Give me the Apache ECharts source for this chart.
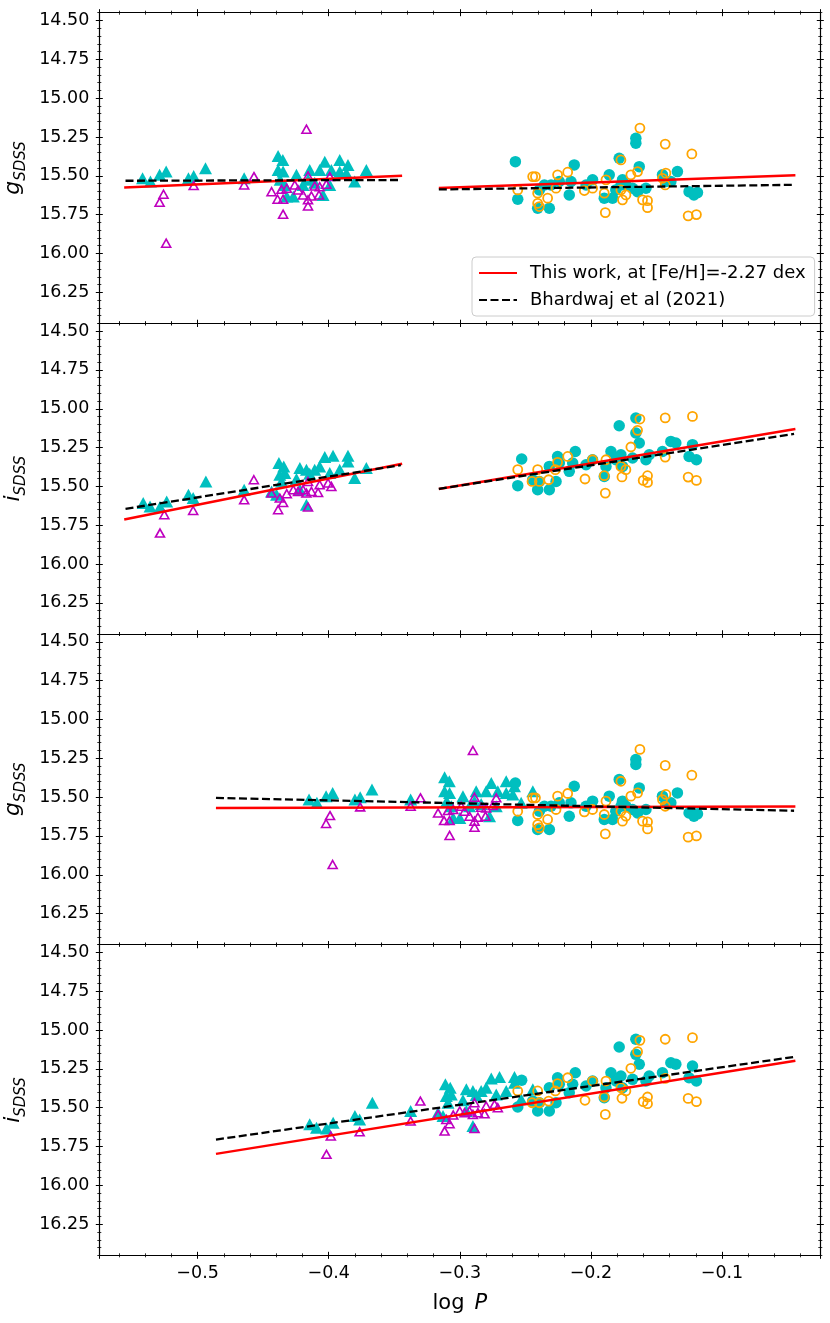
<!DOCTYPE html>
<html>
<head>
<meta charset="utf-8">
<script src="https://cdn.jsdelivr.net/npm/echarts@6/dist/echarts.min.js"></script>
<style>
  html, body { margin: 0; padding: 0; background: #fff; }
  #chart { width: 830px; height: 1323px; }
</style>
</head>
<body>
<div id="chart"></div>
<script>
// [log P, magnitude] pairs

// g band, first-overtone (short period) stars, filled cyan triangles
const gRRcFilled = [
  [-0.542, 15.516], [-0.536, 15.537], [-0.529, 15.494], [-0.524, 15.473], [-0.507, 15.516],
  [-0.503, 15.501], [-0.494, 15.451], [-0.4645, 15.516], [-0.4386, 15.372], [-0.435, 15.398],
  [-0.4386, 15.462], [-0.4348, 15.473], [-0.437, 15.526], [-0.4335, 15.559], [-0.432, 15.634],
  [-0.427, 15.634], [-0.4246, 15.494], [-0.4196, 15.559], [-0.4145, 15.462], [-0.4069, 15.462],
  [-0.403, 15.409], [-0.4043, 15.623], [-0.398, 15.462], [-0.3992, 15.559], [-0.3916, 15.398],
  [-0.3916, 15.473], [-0.3853, 15.43], [-0.3865, 15.484], [-0.3802, 15.537], [-0.3713, 15.462],
  [-0.4158, 15.526], [-0.4107, 15.545]
];
// g band, first-overtone stars, open magenta triangles
const gRRcOpen = [
  [-0.529, 15.670], [-0.526, 15.619], [-0.524, 15.934], [-0.503, 15.563], [-0.4645, 15.559],
  [-0.457, 15.505], [-0.4436, 15.602], [-0.439, 15.651], [-0.4348, 15.651], [-0.436, 15.587],
  [-0.432, 15.58], [-0.4348, 15.747], [-0.4259, 15.559], [-0.4234, 15.591], [-0.4196, 15.623],
  [-0.4158, 15.655], [-0.4158, 15.694], [-0.4158, 15.501], [-0.417, 15.200], [-0.4132, 15.63],
  [-0.4107, 15.565], [-0.4074, 15.623], [-0.4069, 15.57], [-0.4018, 15.554], [-0.3992, 15.505]
];
// g band, fundamental-mode stars, filled cyan circles
const gRRabFilled = [
  [-0.2576, 15.409], [-0.2558, 15.651], [-0.2406, 15.709], [-0.2317, 15.709], [-0.2393, 15.591],
  [-0.2355, 15.559], [-0.2304, 15.559], [-0.2241, 15.537], [-0.2165, 15.623], [-0.2127, 15.430],
  [-0.2152, 15.537], [-0.2037, 15.559], [-0.1987, 15.526], [-0.1898, 15.644], [-0.1860, 15.494],
  [-0.1835, 15.644], [-0.1784, 15.387], [-0.1759, 15.526], [-0.1733, 15.559], [-0.1682, 15.580],
  [-0.1644, 15.602], [-0.1580, 15.580], [-0.1657, 15.258], [-0.1657, 15.290], [-0.1631, 15.441],
  [-0.1454, 15.494], [-0.1428, 15.537], [-0.1390, 15.537], [-0.1340, 15.473], [-0.1251, 15.602],
  [-0.1214, 15.623], [-0.1187, 15.608], [-0.177, 15.559], [-0.181, 15.591]
];
// g band, fundamental-mode stars, open orange circles
const gRRabOpen = [
  [-0.2558, 15.591], [-0.2444, 15.505], [-0.2423, 15.505], [-0.2406, 15.612], [-0.2406, 15.677],
  [-0.2393, 15.698], [-0.2330, 15.644], [-0.2266, 15.580], [-0.2254, 15.494], [-0.2177, 15.477],
  [-0.2050, 15.595], [-0.1987, 15.580], [-0.1898, 15.612], [-0.1885, 15.526], [-0.1890, 15.737],
  [-0.1771, 15.398], [-0.1771, 15.591], [-0.1759, 15.655], [-0.1733, 15.623], [-0.1695, 15.494],
  [-0.1644, 15.473], [-0.1626, 15.193], [-0.1606, 15.655], [-0.1568, 15.660], [-0.1568, 15.705],
  [-0.1454, 15.516], [-0.1428, 15.483], [-0.1433, 15.559], [-0.1433, 15.296], [-0.1258, 15.758],
  [-0.1195, 15.750], [-0.1230, 15.359]
];

// i band
const iRRcFilled = [
  [-0.5415, 15.607], [-0.5363, 15.629], [-0.5287, 15.633], [-0.5236, 15.597], [-0.507, 15.553],
  [-0.5034, 15.575], [-0.4937, 15.468], [-0.4645, 15.521], [-0.438, 15.349], [-0.4343, 15.371],
  [-0.4373, 15.425], [-0.4335, 15.414], [-0.436, 15.468], [-0.4436, 15.532], [-0.4398, 15.553],
  [-0.4246, 15.452], [-0.422, 15.381], [-0.4170, 15.392], [-0.4145, 15.418], [-0.4107, 15.392],
  [-0.417, 15.618], [-0.422, 15.521], [-0.4069, 15.371], [-0.403, 15.311], [-0.3967, 15.302],
  [-0.3992, 15.414], [-0.3916, 15.392], [-0.3853, 15.302], [-0.3853, 15.339], [-0.3802, 15.446],
  [-0.3713, 15.381]
];
const iRRcOpen = [
  [-0.5287, 15.80], [-0.5254, 15.682], [-0.5034, 15.655], [-0.4645, 15.586], [-0.4571, 15.457],
  [-0.4436, 15.543], [-0.4386, 15.65], [-0.4373, 15.575], [-0.4348, 15.603], [-0.432, 15.547],
  [-0.427, 15.521], [-0.4234, 15.532], [-0.4196, 15.521], [-0.4158, 15.468], [-0.4158, 15.633],
  [-0.4132, 15.532], [-0.4081, 15.539], [-0.4069, 15.489], [-0.4005, 15.478], [-0.398, 15.5],
  [-0.417, 15.543]
];
const iRRabFilled = [
  [-0.2528, 15.323], [-0.2558, 15.495], [-0.2406, 15.521], [-0.2317, 15.521], [-0.2393, 15.468],
  [-0.2444, 15.457], [-0.2317, 15.371], [-0.2254, 15.307], [-0.2241, 15.349], [-0.2165, 15.403],
  [-0.2119, 15.275], [-0.2037, 15.360], [-0.1987, 15.328], [-0.1898, 15.436], [-0.1847, 15.275],
  [-0.1885, 15.371], [-0.1809, 15.328], [-0.1759, 15.371], [-0.1771, 15.296], [-0.1784, 15.109],
  [-0.1657, 15.059], [-0.1657, 15.156], [-0.1631, 15.220], [-0.1580, 15.328], [-0.1555, 15.296],
  [-0.1454, 15.275], [-0.1390, 15.210], [-0.1352, 15.220], [-0.1251, 15.307], [-0.1225, 15.231],
  [-0.1195, 15.328], [-0.2266, 15.468], [-0.2139, 15.349], [-0.1682, 15.317]
];
const iRRabOpen = [
  [-0.2558, 15.392], [-0.2449, 15.468], [-0.2406, 15.392], [-0.2393, 15.468], [-0.2322, 15.457],
  [-0.2271, 15.392], [-0.2254, 15.345], [-0.2177, 15.307], [-0.2045, 15.452], [-0.1987, 15.328],
  [-0.1890, 15.543], [-0.1898, 15.431], [-0.1885, 15.328], [-0.1771, 15.371], [-0.1763, 15.439],
  [-0.1733, 15.392], [-0.1695, 15.246], [-0.1644, 15.139], [-0.1626, 15.066], [-0.1601, 15.461],
  [-0.1568, 15.474], [-0.1568, 15.431], [-0.1433, 15.059], [-0.1433, 15.311], [-0.1258, 15.440],
  [-0.1225, 15.049], [-0.1195, 15.461]
];

// period shift applied to the first-overtone stars in the combined panels
const rrcPeriodShift = 0.127;

// fitted relations, one [start, end] pair per segment
const workGSeparate = [[[-0.556, 15.576], [-0.344, 15.500]], [[-0.316, 15.578], [-0.044, 15.496]]];
const bhardGSeparate = [[[-0.555, 15.532], [-0.345, 15.527]], [[-0.316, 15.588], [-0.045, 15.558]]];
const workISeparate = [[[-0.556, 15.713], [-0.344, 15.354]], [[-0.316, 15.516], [-0.044, 15.130]]];
const bhardISeparate = [[[-0.555, 15.644], [-0.345, 15.363]], [[-0.316, 15.515], [-0.045, 15.162]]];
const workGCombined = [[[-0.486, 15.571], [-0.044, 15.561]]];
const bhardGCombined = [[[-0.486, 15.505], [-0.045, 15.588]]];
const workICombined = [[[-0.486, 15.797], [-0.044, 15.197]]];
const bhardICombined = [[[-0.486, 15.705], [-0.045, 15.173]]];

const xTickValues = [-0.5, -0.4, -0.3, -0.2, -0.1];
const yTickValues = [14.5, 14.75, 15.0, 15.25, 15.5, 15.75, 16.0, 16.25];

const workName = 'This work, at [Fe/H]=-2.27 dex';
const bhardName = 'Bhardwaj et al (2021)';

const panels = [
  { band: 'g', tri: gRRcFilled, triOpen: gRRcOpen, circ: gRRabFilled, circOpen: gRRabOpen, shift: 0, work: workGSeparate, bhard: bhardGSeparate },
  { band: 'i', tri: iRRcFilled, triOpen: iRRcOpen, circ: iRRabFilled, circOpen: iRRabOpen, shift: 0, work: workISeparate, bhard: bhardISeparate },
  { band: 'g', tri: gRRcFilled, triOpen: gRRcOpen, circ: gRRabFilled, circOpen: gRRabOpen, shift: rrcPeriodShift, work: workGCombined, bhard: bhardGCombined },
  { band: 'i', tri: iRRcFilled, triOpen: iRRcOpen, circ: iRRabFilled, circOpen: iRRabOpen, shift: rrcPeriodShift, work: workICombined, bhard: bhardICombined }
];

const X_MIN = -0.575, X_MAX = -0.025;
const Y_MIN = 14.45, Y_MAX = 16.45;
const FONT = 'DejaVu Sans';
const INK = '#000';
const CYAN = '#00bfbf', MAGENTA = '#bf00bf', ORANGE = '#ffa500';

const PLOT_LEFT = 99.3, PLOT_WIDTH = 721, PLOT_TOP = 12.7, PANEL_H = 310.65;

const grids = [], xAxes = [], yAxes = [], series = [];

function minusFmt(v, digits) {
  return (v < 0 ? '\u2212' : '') + Math.abs(v).toFixed(digits);
}

function xAxis(gi, position, inside, withLine, extra) {
  return Object.assign({
    type: 'value', gridIndex: gi, position, min: X_MIN, max: X_MAX,
    axisLine: { show: withLine, onZero: false, lineStyle: { color: INK, width: 1.2 } },
    axisTick: { show: true, inside, length: 3.5, lineStyle: { color: INK, width: 1 } },
    minorTick: { show: true, splitNumber: 5, length: 2, lineStyle: { color: INK, width: 0.8 } },
    axisLabel: { show: false },
    splitLine: { show: false }
  }, extra || {});
}

function yAxis(gi, position, inside, major, withLine, extra) {
  const ax = {
    type: 'value', gridIndex: gi, position, min: Y_MIN, max: Y_MAX, inverse: true,
    axisLine: { show: withLine, onZero: false, lineStyle: { color: INK, width: 1.2 } },
    axisLabel: { show: false },
    splitLine: { show: false }
  };
  if (major) {
    ax.axisTick = { show: true, inside, length: 3.5, customValues: yTickValues, lineStyle: { color: INK, width: 1 } };
  } else {
    ax.interval = 0.05;
    ax.axisTick = { show: true, inside, length: 2, lineStyle: { color: INK, width: 0.8 } };
  }
  return Object.assign(ax, extra || {});
}

panels.forEach((p, gi) => {
  const last = gi === panels.length - 1;
  grids.push({
    left: PLOT_LEFT, width: PLOT_WIDTH, top: PLOT_TOP + gi * PANEL_H, height: PANEL_H,
    containLabel: false, outerBoundsMode: 'none'
  });

  const x0 = xAxes.length;
  xAxes.push(xAxis(gi, 'bottom', true, true));
  xAxes.push(xAxis(gi, 'bottom', false, false, last ? {
    axisLabel: {
      show: true, customValues: xTickValues, margin: 9, color: INK, fontSize: 17.5, fontFamily: FONT,
      formatter: (v) => minusFmt(v, 1)
    },
    name: '{n|log}{p|P}', nameLocation: 'middle', nameGap: 38,
    nameTextStyle: {
      rich: {
        n: { fontSize: 21, fontFamily: FONT, color: INK },
        p: { fontSize: 21, fontFamily: FONT, fontStyle: 'italic', color: INK, padding: [0, 0, 0, 10] }
      }
    }
  } : {}));
  xAxes.push(xAxis(gi, 'top', true, true));
  xAxes.push(xAxis(gi, 'top', false, false));

  const y0 = yAxes.length;
  yAxes.push(yAxis(gi, 'left', true, true, true));
  yAxes.push(yAxis(gi, 'left', false, true, false, {
    axisLabel: {
      show: true, customValues: yTickValues, margin: 10, color: INK, fontSize: 17.5, fontFamily: FONT,
      formatter: (v) => v.toFixed(2)
    },
    name: '{m|' + p.band + '}{s|SDSS}', nameLocation: 'middle', nameRotate: 90, nameGap: 60,
    nameTextStyle: {
      rich: {
        m: { fontSize: 22, fontFamily: FONT, fontStyle: 'italic', color: INK, lineHeight: 30, verticalAlign: 'middle' },
        s: { fontSize: 15, fontFamily: FONT, fontStyle: 'italic', color: INK, lineHeight: 22, verticalAlign: 'bottom' }
      }
    }
  }));
  yAxes.push(yAxis(gi, 'left', true, false, false));
  yAxes.push(yAxis(gi, 'left', false, false, false));
  yAxes.push(yAxis(gi, 'right', true, true, true));
  yAxes.push(yAxis(gi, 'right', false, true, false));
  yAxes.push(yAxis(gi, 'right', true, false, false));
  yAxes.push(yAxis(gi, 'right', false, false, false));

  const axisRef = { xAxisIndex: x0, yAxisIndex: y0 };
  const shifted = (pts) => pts.map(([lp, m]) => [lp + p.shift, m]);

  series.push(Object.assign({
    type: 'scatter', symbol: 'triangle', symbolSize: [13, 12], data: shifted(p.tri),
    itemStyle: { color: CYAN, opacity: 1 }, z: 2
  }, axisRef));
  series.push(Object.assign({
    type: 'scatter', symbol: 'triangle', symbolSize: [9, 8], data: shifted(p.triOpen),
    itemStyle: { color: 'rgba(0,0,0,0)', borderColor: MAGENTA, borderWidth: 1.6, opacity: 1 }, z: 3
  }, axisRef));
  series.push(Object.assign({
    type: 'scatter', symbol: 'circle', symbolSize: 11.5, data: p.circ,
    itemStyle: { color: CYAN, opacity: 1 }, z: 4
  }, axisRef));
  series.push(Object.assign({
    type: 'scatter', symbol: 'circle', symbolSize: 9, data: p.circOpen,
    itemStyle: { color: 'rgba(0,0,0,0)', borderColor: ORANGE, borderWidth: 1.8, opacity: 1 }, z: 5
  }, axisRef));

  p.work.forEach((seg) => series.push(Object.assign({
    type: 'line', name: workName, data: seg, symbol: 'none', silent: true,
    lineStyle: { color: '#ff0000', width: 2.5 }, itemStyle: { color: '#ff0000' }, z: 6
  }, axisRef)));
  p.bhard.forEach((seg) => series.push(Object.assign({
    type: 'line', name: bhardName, data: seg, symbol: 'none', silent: true,
    lineStyle: { color: '#000', width: 2.3, type: [8, 3.5] }, itemStyle: { color: '#000' }, z: 7
  }, axisRef)));
});

const chart = echarts.init(document.getElementById('chart'), null, { renderer: 'canvas' });
chart.setOption({
  animation: false,
  backgroundColor: '#fff',
  textStyle: { fontFamily: FONT },
  grid: grids,
  xAxis: xAxes,
  yAxis: yAxes,
  legend: {
    data: [workName, bhardName],
    orient: 'vertical',
    left: 472, top: 257,
    padding: [7, 9, 7, 6],
    itemWidth: 38, itemHeight: 12, itemGap: 9,
    selectedMode: false,
    itemStyle: { opacity: 0 },
    backgroundColor: 'rgba(255,255,255,0.85)',
    borderColor: '#cccccc', borderWidth: 1, borderRadius: 4,
    textStyle: { fontSize: 18, fontFamily: FONT, color: INK, padding: [0, 0, 0, 8] }
  },
  series
});
</script>
</body>
</html>
